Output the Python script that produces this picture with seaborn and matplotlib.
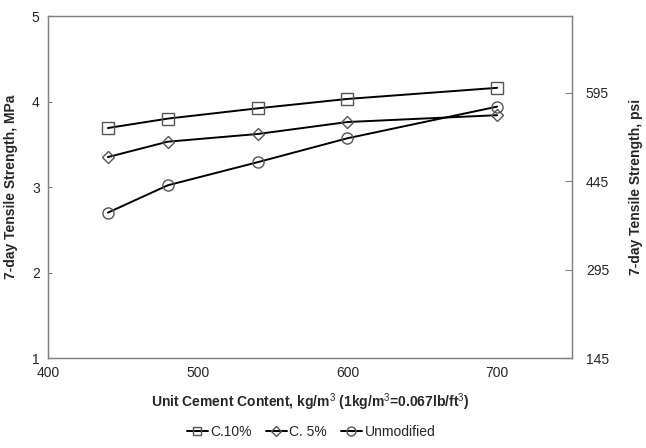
import matplotlib
matplotlib.use("Agg")
import matplotlib.pyplot as plt
import seaborn as sns
import pandas as pd

cement = [440, 480, 540, 600, 700]
c10 = [3.69, 3.80, 3.92, 4.03, 4.16]
c5 = [3.35, 3.53, 3.62, 3.76, 3.84]
unmod = [2.70, 3.02, 3.29, 3.57, 3.94]
series_names = ["C.10%", "C. 5%", "Unmodified"]
x_ticks = [400, 500, 600, 700]
y_ticks = [1, 2, 3, 4, 5]
psi_ticks = [145, 295, 445, 595]

sns.set_style("white")
plt.rcParams['font.family'] = ['Liberation Sans', 'DejaVu Sans']
plt.rcParams['mathtext.fontset'] = 'custom'
plt.rcParams['mathtext.rm'] = 'Liberation Sans'
plt.rcParams['mathtext.bf'] = 'Liberation Sans:bold'

rows = []
for name, vals in zip(series_names, [c10, c5, unmod]):
    for x, y in zip(cement, vals):
        rows.append({"Cement": x, "Strength": y, "Series": name})
df = pd.DataFrame(rows)

fig = plt.figure(figsize=(6.46, 4.48), dpi=100)
ax = fig.add_axes([48/646, 90/448, (572-48)/646, (358-16)/448])

markers = {"C.10%": "s", "C. 5%": "D", "Unmodified": "o"}
msizes = {"C.10%": 8, "C. 5%": 6, "Unmodified": 8}
for name in series_names:
    sub = df[df["Series"] == name]
    sns.lineplot(data=sub, x="Cement", y="Strength", ax=ax, color="black",
                 linewidth=1.4, marker=markers[name], markersize=msizes[name],
                 markerfacecolor="none", markeredgecolor="#555555",
                 markeredgewidth=1.0, label=name, legend=False)

ax.set_xlim(400, 750)
ax.set_ylim(1, 5)
ax.set_xticks(x_ticks)
ax.set_yticks(y_ticks)
ax.tick_params(axis='both', labelsize=10, direction='in', length=3,
               color='#808080', pad=6)
for s in ax.spines.values():
    s.set_color('#808080')
    s.set_linewidth(1.0)
ax.set_xlabel(r"Unit Cement Content, kg/m$^{3}$ (1kg/m$^{3}$=0.067lb/ft$^{3}$)",
              fontsize=10, fontweight='bold', labelpad=8)
ax.set_ylabel("7-day Tensile Strength, MPa", fontsize=10, fontweight='bold',
              labelpad=10)

ax2 = ax.twinx()
ax2.set_ylim(145, 725)
ax2.set_yticks(psi_ticks)
ax2.tick_params(axis='y', labelsize=10, direction='in', length=5,
                color='#808080', pad=10)
for s in ax2.spines.values():
    s.set_color('#808080')
ax2.set_ylabel("7-day Tensile Strength, psi", fontsize=10, fontweight='bold',
               labelpad=14)

handles, labels = ax.get_legend_handles_labels()
fig.legend(handles, labels, loc='center', bbox_to_anchor=(311/646, 1 - 432/448),
           ncol=3, frameon=False, fontsize=10, handlelength=1.5,
           handletextpad=0.2, columnspacing=1.0, markerscale=0.8)

fig.savefig("out.png", dpi=100)
